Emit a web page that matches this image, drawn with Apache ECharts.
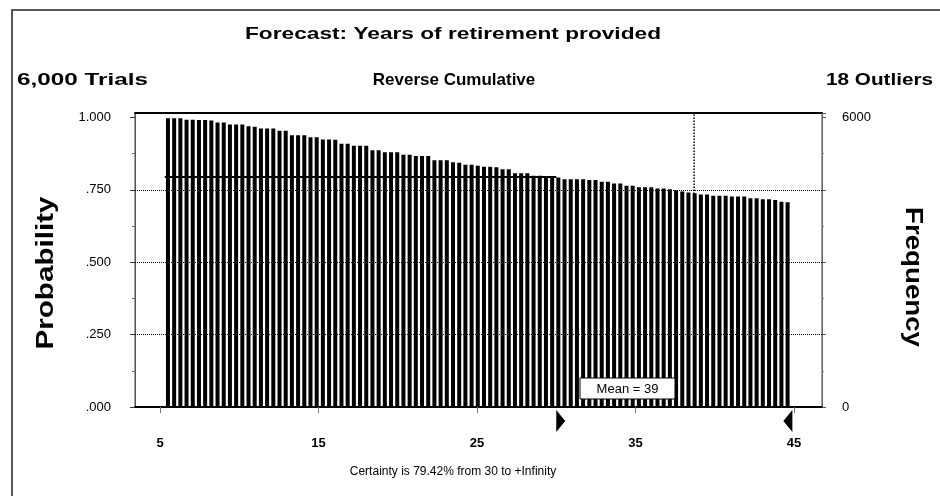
<!DOCTYPE html>
<html>
<head>
<meta charset="utf-8">
<script src="https://cdn.jsdelivr.net/npm/echarts@6/dist/echarts.min.js"></script>
<style>
    html, body { margin: 0; padding: 0; background: #fff; }
    #chart { width: 940px; height: 496px; }
</style>
</head>
<body>
<div id="chart"></div>
<script>
// reverse cumulative probability of each bin, read left to right
const probabilities = [
    0.997, 0.997, 0.997, 0.992, 0.992, 0.991, 0.991, 0.990, 0.983, 0.983,
    0.976, 0.976, 0.976, 0.970, 0.968, 0.962, 0.962, 0.962, 0.954, 0.954,
    0.939, 0.939, 0.939, 0.932, 0.932, 0.924, 0.924, 0.923, 0.909, 0.909,
    0.902, 0.902, 0.902, 0.887, 0.887, 0.880, 0.880, 0.880, 0.871, 0.871,
    0.867, 0.867, 0.867, 0.852, 0.852, 0.852, 0.845, 0.844, 0.837, 0.837,
    0.833, 0.830, 0.830, 0.828, 0.821, 0.821, 0.807, 0.807, 0.807, 0.799,
    0.799, 0.796, 0.793, 0.793, 0.787, 0.787, 0.787, 0.787, 0.784, 0.784,
    0.778, 0.778, 0.772, 0.772, 0.764, 0.764, 0.759, 0.759, 0.759, 0.755,
    0.755, 0.752, 0.749, 0.744, 0.741, 0.738, 0.734, 0.734, 0.730, 0.730,
    0.730, 0.727, 0.727, 0.727, 0.721, 0.721, 0.718, 0.718, 0.715, 0.709,
    0.707
];
const binStart = 5.5;
const binStep = 0.391;

const xTickValues = [5, 15, 25, 35, 45];
const probTickValues = [0, 0.25, 0.5, 0.75, 1];
const probGridValues = [0.25, 0.5, 0.75];
const freqTickValues = [0, 6000];

const meanValue = 38.7;
const certaintyLevel = 0.7942;
const certaintyFrom = 30;
const certaintyTo = 44.9;

const xMin = 3.42;
const xMax = 46.77;
const yMax = 1.0155;
const freqMax = 6000 * yMax;

const font = '"Liberation Sans", Arial, sans-serif';

let chart = echarts.init(document.getElementById('chart'));

let barData = probabilities.map((p, i) => [binStart + i * binStep, p]);

function probLabel(v) {
    if (v >= 1) {
        return '1.000';
    }
    return v.toFixed(3).replace(/^0/, '');
}

let option = {
    animation: false,
    backgroundColor: '#fff',
    grid: {
        left: 135,
        right: 118,
        top: 113,
        bottom: 89,
        show: true,
        borderColor: '#444',
        borderWidth: 1
    },
    xAxis: [
        {
            type: 'value',
            min: xMin,
            max: xMax,
            position: 'bottom',
            axisLine: { show: true, onZero: false, lineStyle: { color: '#000', width: 2 } },
            axisTick: { show: true, customValues: xTickValues, length: 6, lineStyle: { color: '#777' } },
            axisLabel: {
                customValues: xTickValues,
                margin: 30,
                color: '#000',
                fontFamily: font,
                fontWeight: 'bold',
                fontSize: 13
            },
            splitLine: { show: false }
        },
        {
            type: 'value',
            min: xMin,
            max: xMax,
            position: 'top',
            axisLine: { show: true, onZero: false, lineStyle: { color: '#000', width: 2 } },
            axisTick: { show: false },
            axisLabel: { show: false },
            splitLine: { show: false }
        }
    ],
    yAxis: [
        {
            type: 'value',
            min: 0,
            max: yMax,
            interval: 0.25,
            position: 'left',
            axisLine: { show: true, lineStyle: { color: '#555', width: 1 } },
            axisTick: { show: true, customValues: probTickValues, length: 5, lineStyle: { color: '#333' } },
            minorTick: { show: true, splitNumber: 2, length: 3, lineStyle: { color: '#666' } },
            axisLabel: {
                customValues: probTickValues,
                formatter: probLabel,
                margin: 24,
                color: '#000',
                fontFamily: font,
                fontSize: 13
            },
            splitLine: { show: false }
        },
        {
            type: 'value',
            min: 0,
            max: freqMax,
            interval: 1500,
            position: 'right',
            axisLine: { show: true, lineStyle: { color: '#666', width: 1 } },
            axisTick: { show: true, length: 4, lineStyle: { color: '#555' } },
            minorTick: { show: true, splitNumber: 2, length: 2, lineStyle: { color: '#888' } },
            axisLabel: {
                customValues: freqTickValues,
                formatter: v => String(Math.round(v)),
                margin: 20,
                color: '#000',
                fontFamily: font,
                fontSize: 13
            },
            splitLine: { show: false }
        }
    ],
    series: [
        {
            // mean line and dotted grid, kept behind the bars
            type: 'line',
            xAxisIndex: 0,
            yAxisIndex: 0,
            z: 1,
            symbol: 'none',
            silent: true,
            data: [[meanValue, 0], [meanValue, yMax]],
            lineStyle: { color: '#000', width: 1.5, type: 'dotted' },
            markLine: {
                silent: true,
                symbol: 'none',
                label: { show: false },
                lineStyle: { color: '#000', width: 1, type: 'dotted' },
                data: probGridValues.map(v => ({ yAxis: v }))
            }
        },
        {
            type: 'bar',
            xAxisIndex: 0,
            yAxisIndex: 0,
            z: 3,
            barWidth: 4,
            silent: true,
            itemStyle: { color: '#000' },
            data: barData,
            markLine: {
                silent: true,
                symbol: 'none',
                label: { show: false },
                lineStyle: { color: '#000', width: 2, type: 'solid' },
                data: [
                    [
                        { coord: [binStart - 0.2, certaintyLevel] },
                        { coord: [certaintyFrom, certaintyLevel] }
                    ]
                ]
            }
        }
    ]
};

chart.setOption(option);

// the original font is wider than Arial, so stretch each text to its width
let measureCtx = document.createElement('canvas').getContext('2d');

function text(x, y, str, fontSpec, width, align, rotation) {
    measureCtx.font = fontSpec;
    let natural = measureCtx.measureText(str).width;
    return {
        type: 'text',
        x: x,
        y: y,
        rotation: rotation || 0,
        scaleX: width ? width / natural : 1,
        z: 10,
        style: {
            text: str,
            fill: '#000',
            textAlign: align || 'center',
            textVerticalAlign: 'middle',
            font: fontSpec
        }
    };
}

let fromPx = chart.convertToPixel({ xAxisIndex: 0 }, certaintyFrom);
let toPx = chart.convertToPixel({ xAxisIndex: 0 }, certaintyTo);
let boldFont = `bold 17px ${font}`;
let nameFont = `bold 24px ${font}`;

chart.setOption({
    graphic: [
        {
            type: 'polyline',
            z: 10,
            shape: { points: [[12, 496], [12, 10], [940, 10]] },
            style: { stroke: '#222', lineWidth: 1.5, fill: null }
        },
        text(453, 34, 'Forecast: Years of retirement provided', boldFont, 416),
        text(17, 80, '6,000 Trials', boldFont, 131, 'left'),
        text(454, 80, 'Reverse Cumulative', boldFont, 0),
        text(933, 80, '18 Outliers', boldFont, 107, 'right'),
        text(46, 273, 'Probability', nameFont, 153, 'center', Math.PI / 2),
        text(913, 277, 'Frequency', nameFont, 140, 'center', -Math.PI / 2),
        {
            type: 'rect',
            z: 10,
            shape: { x: 580, y: 378, width: 95, height: 21 },
            style: { fill: '#fff', stroke: '#000', lineWidth: 1 }
        },
        text(627.5, 389, 'Mean = 39', `13px ${font}`, 0),
        {
            type: 'polygon',
            z: 10,
            shape: { points: [[fromPx, 410], [fromPx, 432], [fromPx + 9, 421]] },
            style: { fill: '#000' }
        },
        {
            type: 'polygon',
            z: 10,
            shape: { points: [[toPx, 410], [toPx, 432], [toPx - 9, 421]] },
            style: { fill: '#000' }
        },
        text(453, 472, 'Certainty is 79.42% from 30 to +Infinity', `12px ${font}`, 0)
    ]
});
</script>
</body>
</html>
